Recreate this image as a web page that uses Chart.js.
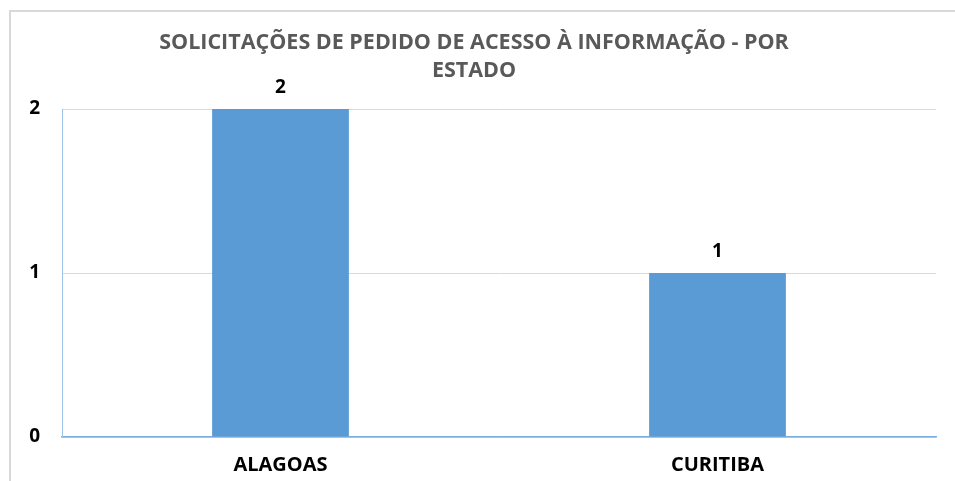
<!DOCTYPE html>
<html>
<head>
<meta charset="utf-8">
<script src="https://cdn.jsdelivr.net/npm/chart.js@4/dist/chart.umd.min.js"></script>
<style>
  html, body { margin: 0; padding: 0; background: #fff; }
  #wrap { position: relative; width: 955px; height: 481px; }
  #frame { position: absolute; left: 9px; top: 10px; right: 0; bottom: 0;
           border-left: 2px solid #d9d9d9; border-top: 2px solid #d9d9d9; }
  canvas { position: absolute; left: 0; top: 0; }
</style>
</head>
<body>
<div id="wrap">
  <div id="frame"></div>
  <canvas id="chart" width="955" height="481"></canvas>
</div>
<script>
// dados do gráfico
const categorias = ['ALAGOAS', 'CURITIBA'];
const solicitacoes = [2, 1];
const tituloLinhas = ['SOLICITAÇÕES DE PEDIDO DE ACESSO À INFORMAÇÃO - POR', 'ESTADO'];
const yMin = 0;
const yMax = 2;
const yPasso = 1;

const FONTE = "'Open Sans', 'DejaVu Sans', sans-serif";

// rótulos de valor em cima das barras
const rotulosValor = {
    id: 'rotulosValor',
    afterDatasetsDraw(chart) {
        const ctx = chart.ctx;
        ctx.save();
        ctx.font = `bold 19px ${FONTE}`;
        ctx.fillStyle = '#000';
        ctx.textAlign = 'center';
        ctx.textBaseline = 'middle';
        chart.getDatasetMeta(0).data.forEach((bar, i) => {
            ctx.fillText(String(solicitacoes[i]), bar.x, bar.y - 21);
        });
        ctx.restore();
    }
};

new Chart(document.getElementById('chart'), {
    type: 'bar',
    data: {
        labels: categorias,
        datasets: [{
            data: solicitacoes,
            backgroundColor: '#5b9bd5',
            barPercentage: 0.313,
            categoryPercentage: 1
        }]
    },
    options: {
        responsive: false,
        animation: false,
        layout: { padding: { left: 12, right: 19, top: 0, bottom: 0 } },
        plugins: {
            legend: { display: false },
            tooltip: { enabled: false },
            title: {
                display: true,
                text: tituloLinhas,
                color: '#595959',
                font: { family: FONTE, size: 21.5, weight: 'bold', lineHeight: 28 / 21.5 },
                padding: { top: 29, bottom: 24 }
            }
        },
        scales: {
            x: {
                grid: { display: false, drawTicks: false },
                border: { color: '#7aaee0', width: 1.5 },
                ticks: { color: '#000', padding: 16, font: { family: FONTE, size: 20, weight: 'bold' } },
                afterFit(scale) { scale.height = 44; }
            },
            y: {
                min: yMin,
                max: yMax,
                grid: { color: '#d9d9d9', drawTicks: false },
                border: { color: '#9dc3e6', width: 1 },
                ticks: { stepSize: yPasso, color: '#000', padding: 22, font: { family: FONTE, size: 19, weight: 'bold' } },
                afterFit(scale) { scale.width = 50; }
            }
        }
    },
    plugins: [rotulosValor]
});
</script>
</body>
</html>
